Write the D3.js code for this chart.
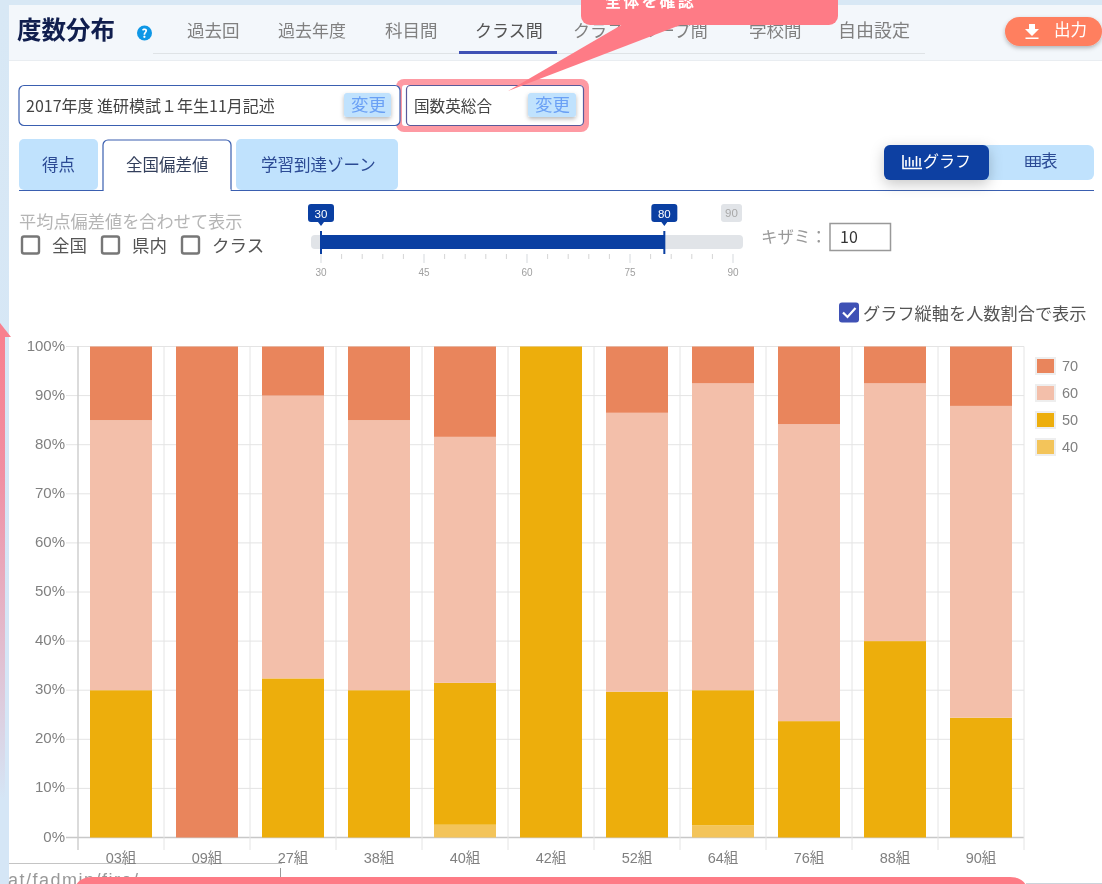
<!DOCTYPE html>
<html><head><meta charset="utf-8">
<script src="https://cdn.jsdelivr.net/npm/d3@7"></script>
<style>
html,body{margin:0;padding:0;background:#fff;overflow:hidden}
svg{display:block;filter:blur(0.35px)}
text{font-family:"Noto Sans CJK JP","Noto Sans",sans-serif}
.chartText text, text.chartText{font-family:"Liberation Sans","Noto Sans CJK JP",sans-serif}
</style></head><body>
<svg id="c" width="1102" height="884"></svg>
<script>
const classes=["03組","09組","27組","38組","40組","42組","52組","64組","76組","88組","90組"];
const seriesNames=["40","50","60","70"];
const band40=[0,0,0,0,2.6,0,0,2.5,0,0,0];
const band50=[30,0,32.4,30,28.9,100,29.7,27.5,23.7,40,24.4];
const band60=[55,0,57.6,55,50.1,0,56.8,62.5,60.5,52.5,63.5];
const band70=[15,100,10,15,18.4,0,13.5,7.5,15.8,7.5,12.1];
const seriesColors=["#f3c45a","#edae0c","#f3bfaa","#e9855c"];
const navItems=["過去回","過去年度","科目間","クラス間","クラスグループ間","学校間","自由設定"];
const yTicks=[0,10,20,30,40,50,60,70,80,90,100];
const sliderTicks=d3.range(30,91,3);
const sliderLabels=[30,45,60,75,90];

const svg=d3.select("#c");
const defs=svg.append("defs");
const sh=defs.append("filter").attr("id","sh").attr("x","-30%").attr("y","-30%").attr("width","160%").attr("height","180%");
sh.append("feDropShadow").attr("dx",0).attr("dy",2).attr("stdDeviation",2).attr("flood-color","#000").attr("flood-opacity",.28);
const sh2=defs.append("filter").attr("id","sh2").attr("x","-30%").attr("y","-50%").attr("width","160%").attr("height","220%");
sh2.append("feDropShadow").attr("dx",0).attr("dy",4).attr("stdDeviation",7).attr("flood-color","#000").attr("flood-opacity",.22);
const lg=defs.append("linearGradient").attr("id","edge").attr("x1",0).attr("y1",0).attr("x2",0).attr("y2",1);
lg.append("stop").attr("offset",0).attr("stop-color","#d8e8f5");
lg.append("stop").attr("offset",.7).attr("stop-color","#d5e6f6");
lg.append("stop").attr("offset",1).attr("stop-color","#d5e6f6");
const ag=defs.append("linearGradient").attr("id","arrow").attr("gradientUnits","userSpaceOnUse").attr("x1",0).attr("y1",337).attr("x2",0).attr("y2",800);
ag.append("stop").attr("offset",0).attr("stop-color","#f8808f");
ag.append("stop").attr("offset",.3).attr("stop-color","#f08fa3");
ag.append("stop").attr("offset",1).attr("stop-color","#d5e6f6");

function rect(x,y,w,h,fill,o={}){const r=svg.append("rect").attr("x",x).attr("y",y).attr("width",w).attr("height",h).attr("fill",fill);
 for(const k in o) r.attr(k,o[k]);return r;}
function txt(x,y,s,size,fill,o={}){const t=svg.append("text").attr("x",x).attr("y",y).text(s).attr("font-size",size).attr("fill",fill);
 for(const k in o) t.attr(k,o[k]);return t;}

// page background
rect(0,0,1102,884,"url(#edge)");
rect(9,5,1093,879,"#ffffff");
// header band
rect(9,5,1093,56,"#f3f7fb");
rect(9,60,1093,1,"#e9edf1");
rect(153,53,772,1,"#dfe3e6");
txt(17,39,"度数分布",24.5,"#101e4e",{"font-weight":700});
svg.append("circle").attr("cx",144.5).attr("cy",33).attr("r",7.5).attr("fill","#0e97e6");
txt(144.5,37.5,"?",12,"#fff",{"text-anchor":"middle","font-weight":700});
const navX=[187,278,385,475,573,749,838];
const navSize=[17.5,17,17.5,17,17,17.5,18];
navItems.forEach((s,i)=>{
 txt(navX[i],37,s,navSize[i],i==3?"#555":"#808080");});
rect(459,51,98,3,"#3f51b5");

// output button
rect(1005,17,97,29,"#ff7f5f",{rx:14.5,filter:"url(#sh)"});
svg.append("path").attr("d","M1029 24h6v5h4l-7 7-7-7h4z M1025.5 37.5h13v1.6h-13z").attr("fill","#fff");
txt(1054,36,"出力",16.5,"#fff");

// selector boxes
rect(396,79,193,53,"#fe9aa3",{rx:8});
rect(402,85,181,41,"#fff",{rx:3});
rect(19,85.5,381,40,"#fff",{rx:5,stroke:"#3a5fb0","stroke-width":1.2});
rect(406.5,85.5,177,40,"#fff",{rx:4,stroke:"#5a5a9a","stroke-width":1.2});
txt(26,112,"2017年度 進研模試１年生11月記述",16,"#444");
txt(414,112,"国数英総合",15.6,"#444");
rect(344,93,47,24,"#c0e2fd",{rx:3,filter:"url(#sh)"});
txt(351,111,"変更",17.5,"#6aa0f5");
rect(528,93,48,24,"#c0e2fd",{rx:3,filter:"url(#sh)"});
txt(535,111,"変更",17.5,"#6aa0f5");

// callout
svg.append("path").attr("d","M508 91L623 24L683 24Z").attr("fill","#fe7b86");
rect(581,-10,257,35,"#fe7b86",{rx:9});
txt(605,7,"全体を確認",16,"#fff",{"font-weight":700,"letter-spacing":"2.2px"});

// tabs
rect(19,139,79,51,"#c0e2fd",{rx:5});
rect(236,139,162,51,"#c0e2fd",{rx:5});
rect(19,190,1075,1,"#3a5fb0");
svg.append("path").attr("d","M103 190.5V145a5 5 0 0 1 5-5H226a5 5 0 0 1 5 5V190.5").attr("fill","#fff").attr("stroke","#3a5fb0").attr("stroke-width",1.2);
rect(104,189,126.5,3,"#fff");
txt(42,171,"得点",16.5,"#2b4a94");
txt(126,171,"全国偏差値",16.5,"#333f5c");
txt(261,171,"学習到達ゾーン",16.5,"#2b4a94");

// graph/table toggle
rect(885,145,209,35,"#c0e2fd",{rx:6});
rect(884,145,105,35,"#0a3fa2",{rx:6,filter:"url(#sh2)"});
svg.append("path").attr("d","M903 155v13.5h19M906 160v6.5M909.5 157v9.5M913 160v6.5M916.5 156v10.5M920 158v8.5").attr("fill","none").attr("stroke","#fff").attr("stroke-width",1.6);
txt(923,167,"グラフ",16,"#fff");
svg.append("path").attr("d","M1026 156.5h14v10h-14zM1026 160h14M1026 163.5h14M1030.5 156.5v10M1035.5 156.5v10").attr("fill","none").attr("stroke","#2b4a94").attr("stroke-width",1.2);
txt(1041,167,"表",16.5,"#2b4a94");

// average-score options
txt(19,228,"平均点偏差値を合わせて表示",17.2,"#b5b5b5");
[[22,"全国",52],[102,"県内",132],[182,"クラス",212]].forEach(d=>{
 rect(d[0],236.5,17,17,"#fff",{rx:2,stroke:"#777","stroke-width":2.4});
 txt(d[2],252,d[1],17.5,"#555");
});

// slider
const sx=d3.scaleLinear().domain([30,90]).range([321,733]);
rect(311,235,432,14,"#e1e4e8",{rx:4});
rect(sx(30),235,sx(80)-sx(30),14,"#0a3fa2");
rect(sx(30)-1,231,2,23,"#0a3fa2");
rect(sx(80)-1,231,2,23,"#0a3fa2");
const tickG=svg.append("g");
tickG.selectAll("rect").data(sliderTicks).join("rect")
 .attr("x",d=>sx(d)-.5).attr("width",1)
 .attr("y",254).attr("height",d=>sliderLabels.includes(d)?9:5)
 .attr("fill",d=>sliderLabels.includes(d)?"#d5d9de":"#d5d5d5");
svg.append("g").selectAll("text").data(sliderLabels).join("text").attr("class","chartText")
 .attr("x",d=>sx(d)).attr("y",276).attr("text-anchor","middle").attr("font-size",10).attr("fill","#a0a0a0").text(d=>d);
function pin(v){const x=sx(v);
 svg.append("path").attr("d",`M${x-13} 207a3 3 0 0 1 3-3h20a3 3 0 0 1 3 3v12a3 3 0 0 1-3 3h-7l-3 4l-3-4h-7a3 3 0 0 1-3-3z`).attr("fill","#0a3fa2");
 txt(x,218,v,11.5,"#fff",{"text-anchor":"middle",class:"chartText"});}
pin(30);pin(80);
rect(721,204,21,18,"#e1e4e8",{rx:3});
txt(731.5,217,"90",11.5,"#a8a8a8",{"text-anchor":"middle",class:"chartText"});

txt(761,243,"キザミ：",16.5,"#999");
rect(830,223.5,60.5,27,"#fff",{stroke:"#999","stroke-width":1.5});
txt(840,243,"10",16,"#333");

// percent checkbox
rect(839,302.5,20,20,"#3f51b5",{rx:3});
svg.append("path").attr("d","M843 312.5l4.5 4.5 8-9").attr("fill","none").attr("stroke","#fff").attr("stroke-width",2.2);
txt(863,320,"グラフ縦軸を人数割合で表示",17.2,"#555");

// url strip under the chart's labels
rect(9,863,273,21,"#fff");
rect(9,863,273,1,"#c4c4c4");
rect(280,868,1,16,"#999");
txt(8,886,"at/fadmin/fire/",18,"#999",{class:"chartText","letter-spacing":"1.5px"});

// chart
const x=d3.scaleBand().domain(classes).range([78,1024]).paddingInner(0).paddingOuter(0);
const y=d3.scaleLinear().domain([0,100]).range([837.5,346.5]);
const barW=62;
const g=svg.append("g").attr("class","chartText");
g.append("g").selectAll("line").data(yTicks).join("line")
 .attr("x1",66).attr("x2",1024).attr("y1",d=>y(d)).attr("y2",d=>y(d))
 .attr("stroke",d=>d==0?"#c8c8c8":"#e4e4e4").attr("stroke-width",d=>d==0?1.5:1);
const gridX=classes.map(c=>x(c)).concat([1024]);
g.append("g").selectAll("line").data(gridX).join("line")
 .attr("x1",d=>d).attr("x2",d=>d).attr("y1",346.5).attr("y2",850)
 .attr("stroke",(d,i)=>i==0?"#cccccc":"#e4e4e4").attr("stroke-width",(d,i)=>i==0?1.4:1);
const table=classes.map((c,i)=>({c,"40":band40[i],"50":band50[i],"60":band60[i],"70":band70[i]}));
const stacked=d3.stack().keys(seriesNames)(table);
const color=d3.scaleOrdinal(seriesNames,seriesColors);
g.append("g").selectAll("g").data(stacked).join("g").attr("fill",d=>color(d.key))
 .selectAll("rect").data(d=>d.filter(p=>p[1]>p[0])).join("rect")
 .attr("x",d=>x(d.data.c)+(x.bandwidth()-barW)/2).attr("width",barW)
 .attr("y",d=>y(d[1])).attr("height",d=>y(d[0])-y(d[1]));
g.append("g").selectAll("text").data(yTicks).join("text")
 .attr("x",65).attr("y",d=>y(d)+4).attr("text-anchor","end").attr("font-size",15).attr("fill","#808080").text(d=>d+"%");
g.append("g").selectAll("text").data(classes).join("text")
 .attr("x",d=>x(d)+x.bandwidth()/2).attr("y",863).attr("text-anchor","middle").attr("font-size",14.5).attr("fill","#808080").text(d=>d);
// legend
const legendOrder=[...seriesNames].reverse();
const lg2=g.append("g").selectAll("g").data(legendOrder).join("g").attr("transform",(d,i)=>`translate(1036,${358+i*27})`);
lg2.append("rect").attr("width",19).attr("height",16).attr("fill",d=>color(d)).attr("stroke","#eee").attr("stroke-width",2);
lg2.append("text").attr("x",26).attr("y",12.5).attr("font-size",14.5).attr("fill","#808080").text(d=>d);

// bottom overlays
rect(76,877,950,20,"#fe7b86",{rx:16});
rect(1026,883,76,1,"#ccd3da");
// left arrow
svg.append("path").attr("d","M0 323L11 337H0Z").attr("fill","#f8808f");
rect(0,337,5,547,"url(#arrow)");
</script>
</body></html>
